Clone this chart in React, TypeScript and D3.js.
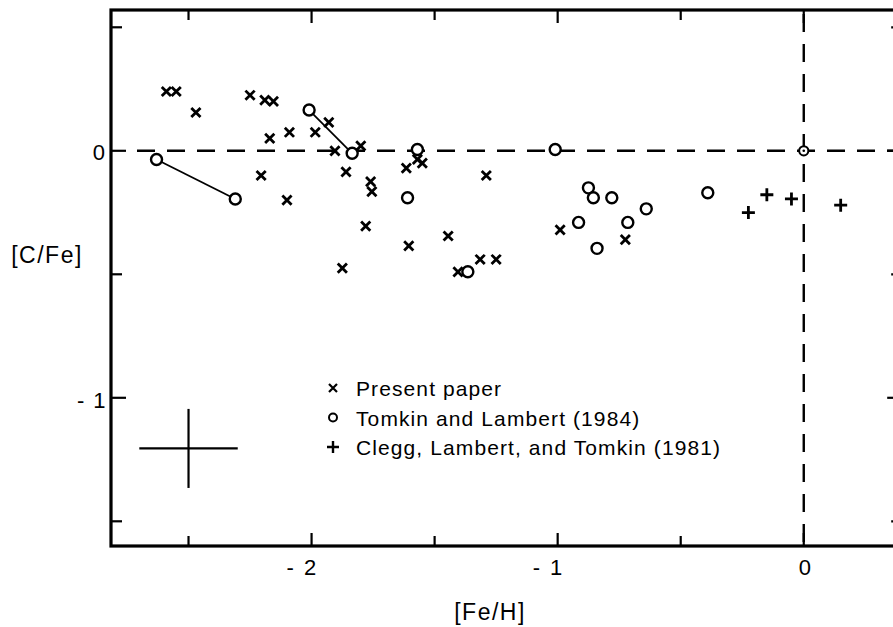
import * as d3 from "d3";

// [Fe/H], [C/Fe]
const presentPaper: [number, number][] = [
  [-2.59, 0.24], [-2.55, 0.24], [-2.47, 0.155], [-2.25, 0.225], [-2.19, 0.205],
  [-2.155, 0.2], [-2.17, 0.05], [-2.09, 0.075], [-2.205, -0.1], [-2.1, -0.2],
  [-1.985, 0.075], [-1.93, 0.115], [-1.905, 0.0], [-1.86, -0.085], [-1.8, 0.02],
  [-1.76, -0.125], [-1.755, -0.165], [-1.78, -0.305], [-1.875, -0.475], [-1.615, -0.07],
  [-1.57, -0.035], [-1.55, -0.05], [-1.605, -0.385], [-1.445, -0.345], [-1.405, -0.49],
  [-1.315, -0.44], [-1.25, -0.44], [-1.29, -0.1], [-0.99, -0.32], [-0.725, -0.36],
];

const tomkinLambert: [number, number][] = [
  [-2.63, -0.035], [-2.31, -0.195], [-2.01, 0.165], [-1.835, -0.01], [-1.57, 0.005],
  [-1.61, -0.19], [-1.365, -0.49], [-1.01, 0.005], [-0.875, -0.15], [-0.855, -0.19],
  [-0.78, -0.19], [-0.64, -0.235], [-0.915, -0.29], [-0.715, -0.29], [-0.84, -0.395],
  [-0.39, -0.17],
];

// pairs of tomkinLambert points joined by a line
const tomkinLinks: [number, number][] = [[0, 1], [2, 3]];

const sun: [number, number] = [0, 0];

const cleggEtAl: [number, number][] = [
  [-0.225, -0.25], [-0.15, -0.178], [-0.05, -0.195], [0.15, -0.22],
];

// typical error bar
const errorCenter: [number, number] = [-2.5, -1.205];
const errorHalf: [number, number] = [0.2, 0.16];

const xTicks = [-2.5, -2, -1.5, -1, -0.5, 0];
const xTickLabels = [-2, -1, 0];
const yTicks = [0.5, 0, -0.5, -1, -1.5];
const yTickLabels = [0, -1];

const legendLabels = [
  "Present paper",
  "Tomkin and Lambert (1984)",
  "Clegg, Lambert, and Tomkin (1981)",
];

const W = 893, H = 627;
const font = "'Liberation Sans', Arial, sans-serif";

export default function App() {
  const x = d3.scaleLinear().domain([-2.815, 0.4]).range([111, 902.2]);
  const y = d3.scaleLinear().domain([0.57, -1.6]).range([10, 546]);
  const [x0, x1] = x.range();
  const [y0, y1] = y.range();

  const cross = (cx: number, cy: number, s: number, w: number, key: any) => (
    <path key={key} d={`M${cx - s},${cy - s}L${cx + s},${cy + s}M${cx - s},${cy + s}L${cx + s},${cy - s}`}
      stroke="#000" strokeWidth={w} fill="none" />
  );
  const plus = (cx: number, cy: number, s: number, w: number, key: any) => (
    <path key={key} d={`M${cx - s},${cy}L${cx + s},${cy}M${cx},${cy - s}L${cx},${cy + s}`}
      stroke="#000" strokeWidth={w} fill="none" />
  );
  const circ = (cx: number, cy: number, r: number, key: any) => (
    <circle key={key} cx={cx} cy={cy} r={r} stroke="#000" strokeWidth={2.4} fill="#fff" />
  );

  const isMajor = (v: number) => Number.isInteger(v);

  return (
    <svg width={W} height={H} style={{ position: "absolute", left: 0, top: 0, background: "#fff" }}
      fontFamily={font}>
      <rect width={W} height={H} fill="#fff" />

      {/* dashed reference lines */}
      <line x1={137} x2={x1} y1={y(0)} y2={y(0)} stroke="#000" strokeWidth={2.4}
        strokeDasharray="18 12" />
      <line x1={x(0)} x2={x(0)} y1={y0} y2={y1} stroke="#000" strokeWidth={2.4}
        strokeDasharray="18 12" strokeDashoffset={-4} />

      {/* ticks */}
      {xTicks.map((t) => {
        const len = isMajor(t) ? 13 : 10;
        return (
          <g key={"xt" + t} stroke="#000" strokeWidth={2.2}>
            <line x1={x(t)} x2={x(t)} y1={y1} y2={y1 - len} />
            <line x1={x(t)} x2={x(t)} y1={y0} y2={y0 + len} />
          </g>
        );
      })}
      {yTicks.map((t) => {
        const len = isMajor(t) ? 15 : 11;
        return (
          <g key={"yt" + t} stroke="#000" strokeWidth={2.2}>
            <line x1={x0} x2={x0 + len} y1={y(t)} y2={y(t)} />
            <line x1={x1} x2={x1 - len} y1={y(t)} y2={y(t)} />
          </g>
        );
      })}

      {/* frame */}
      <rect x={x0} y={y0} width={x1 - x0} height={y1 - y0} fill="none" stroke="#000" strokeWidth={3.2} />

      {/* tick labels */}
      {xTickLabels.map((v) => (
        v < 0 ? (
          <text key={"xl" + v} x={x(v) - 25} y={y1 + 29} fontSize={22}>
            -<tspan dx={10}>{Math.abs(v)}</tspan>
          </text>
        ) : (
          <text key={"xl" + v} x={x(v) + 1} y={y1 + 29} fontSize={22} textAnchor="middle">{v}</text>
        )
      ))}
      {yTickLabels.map((v) => (
        v < 0 ? (
          <text key={"yl" + v} x={x0 - 34} y={y(v) + 10} fontSize={22}>
            -<tspan dx={9}>{Math.abs(v)}</tspan>
          </text>
        ) : (
          <text key={"yl" + v} x={x0 - 6} y={y(v) + 9} fontSize={22} textAnchor="end">{v}</text>
        )
      ))}

      {/* axis titles */}
      <text x={490} y={620} fontSize={23} textAnchor="middle" letterSpacing={1.5}>[Fe/H]</text>
      <text x={47} y={263} fontSize={23} textAnchor="middle" letterSpacing={1.5}>[C/Fe]</text>

      {/* connecting lines */}
      {tomkinLinks.map(([a, b], i) => (
        <line key={"ln" + i} x1={x(tomkinLambert[a][0])} y1={y(tomkinLambert[a][1])}
          x2={x(tomkinLambert[b][0])} y2={y(tomkinLambert[b][1])} stroke="#000" strokeWidth={1.8} />
      ))}

      {/* data */}
      {presentPaper.map((d, i) => cross(x(d[0]), y(d[1]), 4.6, 2.8, "p" + i))}
      {tomkinLambert.map((d, i) => circ(x(d[0]), y(d[1]), 5.5, "t" + i))}
      <circle cx={x(sun[0])} cy={y(sun[1])} r={4.6} stroke="#000" strokeWidth={2} fill="#fff" />
      <circle cx={x(sun[0])} cy={y(sun[1])} r={1.3} fill="#000" />
      {cleggEtAl.map((d, i) => plus(x(d[0]), y(d[1]), 6.5, 2.8, "c" + i))}

      {/* error bar */}
      <g stroke="#000" strokeWidth={2.2}>
        <line x1={x(errorCenter[0] - errorHalf[0])} x2={x(errorCenter[0] + errorHalf[0])}
          y1={y(errorCenter[1])} y2={y(errorCenter[1])} />
        <line x1={x(errorCenter[0])} x2={x(errorCenter[0])}
          y1={y(errorCenter[1] + errorHalf[1])} y2={y(errorCenter[1] - errorHalf[1])} />
      </g>

      {/* legend */}
      {legendLabels.map((s, i) => {
        const ly = 388 + i * 29.5;
        const lx = 333;
        return (
          <g key={"lg" + i}>
            {i === 0 && cross(lx, ly, 4, 2.2, "lgs")}
            {i === 1 && <circle cx={lx} cy={ly} r={4} stroke="#000" strokeWidth={2} fill="none" />}
            {i === 2 && plus(lx, ly, 6, 2.4, "lgs")}
            <text x={lx + 23} y={ly + 8} fontSize={21} letterSpacing={1.1}>{s}</text>
          </g>
        );
      })}
    </svg>
  );
}
